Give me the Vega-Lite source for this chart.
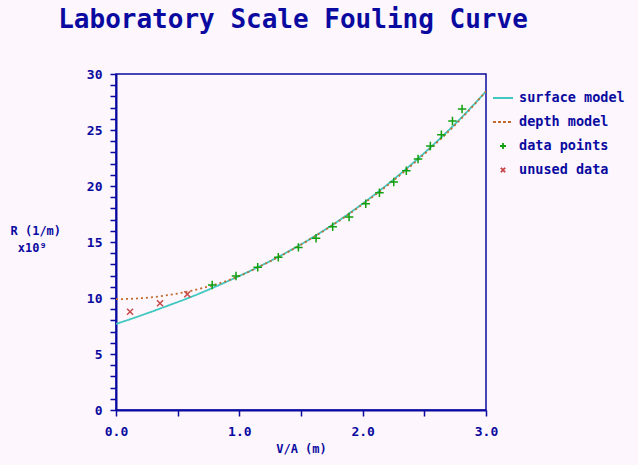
{
  "$schema": "https://vega.github.io/schema/vega-lite/v6.json",
  "width": 370,
  "height": 336,
  "autosize": {"type": "none"},
  "padding": {"left": 116, "top": 74, "right": 152, "bottom": 55},
  "background": "#fdf6fd",
  "title": {
    "text": "Laboratory Scale Fouling Curve",
    "font": "DejaVu Sans Mono",
    "fontSize": 26,
    "fontWeight": "bold",
    "color": "#0a0aa0",
    "anchor": "middle",
    "baseline": "alphabetic",
    "dx": -8,
    "offset": 14
  },
  "config": {
    "view": {"stroke": "#0a0aa0", "strokeWidth": 1.5},
    "axis": {
      "domainColor": "#0a0aa0",
      "domainWidth": 2,
      "tickColor": "#0a0aa0",
      "tickWidth": 1.5,
      "tickSize": 6,
      "grid": false,
      "labelFont": "DejaVu Sans Mono",
      "labelFontSize": 13,
      "labelFontWeight": "bold",
      "labelColor": "#0a0aa0",
      "titleFont": "DejaVu Sans Mono",
      "titleFontSize": 12,
      "titleFontWeight": "bold",
      "titleColor": "#0a0aa0"
    }
  },
  "data": {
    "values": [
      {"series": "surface model", "x": 0.0, "y": 7.68},
      {"series": "surface model", "x": 0.2, "y": 8.43},
      {"series": "surface model", "x": 0.4, "y": 9.23},
      {"series": "surface model", "x": 0.6, "y": 10.06},
      {"series": "surface model", "x": 0.8, "y": 10.98},
      {"series": "surface model", "x": 1.0, "y": 11.97},
      {"series": "surface model", "x": 1.2, "y": 13.02},
      {"series": "surface model", "x": 1.4, "y": 14.17},
      {"series": "surface model", "x": 1.6, "y": 15.45},
      {"series": "surface model", "x": 1.8, "y": 16.86},
      {"series": "surface model", "x": 2.0, "y": 18.43},
      {"series": "surface model", "x": 2.2, "y": 20.13},
      {"series": "surface model", "x": 2.4, "y": 21.98},
      {"series": "surface model", "x": 2.6, "y": 23.96},
      {"series": "surface model", "x": 2.8, "y": 26.1},
      {"series": "surface model", "x": 3.0, "y": 28.45},
      {"series": "depth model", "x": 0.0, "y": 9.9},
      {"series": "depth model", "x": 0.1, "y": 9.92},
      {"series": "depth model", "x": 0.2, "y": 9.98},
      {"series": "depth model", "x": 0.3, "y": 10.08},
      {"series": "depth model", "x": 0.4, "y": 10.22},
      {"series": "depth model", "x": 0.5, "y": 10.4},
      {"series": "depth model", "x": 0.6, "y": 10.62},
      {"series": "depth model", "x": 0.7, "y": 10.88},
      {"series": "depth model", "x": 0.8, "y": 11.18},
      {"series": "depth model", "x": 0.9, "y": 11.54},
      {"series": "depth model", "x": 1.0, "y": 11.96},
      {"series": "depth model", "x": 1.2, "y": 13.0},
      {"series": "depth model", "x": 1.4, "y": 14.14},
      {"series": "depth model", "x": 1.6, "y": 15.42},
      {"series": "depth model", "x": 1.8, "y": 16.82},
      {"series": "depth model", "x": 2.0, "y": 18.37},
      {"series": "depth model", "x": 2.2, "y": 20.05},
      {"series": "depth model", "x": 2.4, "y": 21.88},
      {"series": "depth model", "x": 2.6, "y": 23.86},
      {"series": "depth model", "x": 2.8, "y": 26.02},
      {"series": "depth model", "x": 3.0, "y": 28.45},
      {"series": "data points", "x": 0.78, "y": 11.16},
      {"series": "data points", "x": 0.973, "y": 11.96},
      {"series": "data points", "x": 1.149, "y": 12.74},
      {"series": "data points", "x": 1.316, "y": 13.63},
      {"series": "data points", "x": 1.479, "y": 14.52},
      {"series": "data points", "x": 1.622, "y": 15.33},
      {"series": "data points", "x": 1.757, "y": 16.37},
      {"series": "data points", "x": 1.89, "y": 17.23},
      {"series": "data points", "x": 2.025, "y": 18.42},
      {"series": "data points", "x": 2.136, "y": 19.4},
      {"series": "data points", "x": 2.252, "y": 20.36},
      {"series": "data points", "x": 2.354, "y": 21.37},
      {"series": "data points", "x": 2.449, "y": 22.41},
      {"series": "data points", "x": 2.549, "y": 23.57},
      {"series": "data points", "x": 2.638, "y": 24.58},
      {"series": "data points", "x": 2.728, "y": 25.8},
      {"series": "data points", "x": 2.806, "y": 26.88},
      {"series": "unused data", "x": 0.114, "y": 8.78},
      {"series": "unused data", "x": 0.357, "y": 9.53},
      {"series": "unused data", "x": 0.578, "y": 10.33}
    ]
  },
  "encoding": {
    "x": {
      "field": "x",
      "type": "quantitative",
      "scale": {"domain": [0, 3], "nice": false, "zero": false},
      "axis": {
        "title": "V/A (m)",
        "values": [0, 0.5, 1, 1.5, 2, 2.5, 3],
        "labelExpr": "datum.value % 1 == 0 ? format(datum.value, '.1f') : ''",
        "labelPadding": 9,
        "titlePadding": 5,
        "labelFlush": false,
        "labelOverlap": false
      }
    },
    "y": {
      "field": "y",
      "type": "quantitative",
      "scale": {"domain": [0, 30], "nice": false},
      "axis": {
        "title": ["R (1/m)", "\u200b\u00a0x10⁹"],
        "titleAngle": 0,
        "titleAlign": "left",
        "titleBaseline": "alphabetic",
        "titleX": -106,
        "titleY": 160,
        "titleLineHeight": 17,
        "values": [0,1,2,3,4,5,6,7,8,9,10,11,12,13,14,15,16,17,18,19,20,21,22,23,24,25,26,27,28,29,30],
        "labelExpr": "datum.value % 5 == 0 ? format(datum.value, 'd') : ''",
        "labelPadding": 8,
        "labelFlush": false,
        "labelOverlap": false
      }
    }
  },
  "layer": [
    {
      "transform": [{"filter": "datum.series == 'surface model' || datum.series == 'depth model'"}],
      "mark": {"type": "line", "strokeWidth": 1.8, "interpolate": "monotone", "clip": true},
      "encoding": {
        "color": {
          "field": "series",
          "type": "nominal",
          "scale": {
            "domain": ["surface model", "depth model", "data points", "unused data"],
            "range": ["#40c8c0", "#c06a30", "#10a010", "#c84848"]
          },
          "legend": {
            "orient": "none",
            "legendX": 376,
            "legendY": 13,
            "title": null,
            "labelFont": "DejaVu Sans Mono",
            "labelFontSize": 13.5,
            "labelFontWeight": "bold",
            "labelColor": "#0a0aa0",
            "labelOffset": 5,
            "rowPadding": 6,
            "encode": {
              "symbols": {
                "update": {
                  "shape": {"signal": "datum.value == 'data points' ? 'M-1,0L1,0M0,-1L0,1' : datum.value == 'unused data' ? 'M-1,-1L1,1M-1,1L1,-1' : 'stroke'"},
                  "size": {"signal": "datum.value == 'data points' ? 36 : datum.value == 'unused data' ? 20 : 400"},
                  "strokeDash": {"signal": "datum.value == 'depth model' ? [3, 2] : [1, 0]"},
                  "stroke": {"scale": "color", "field": "value"},
                  "strokeWidth": {"value": 1.8},
                  "fill": {"value": "transparent"},
                  "opacity": {"value": 1}
                }
              }
            }
          }
        },
        "strokeDash": {
          "field": "series",
          "type": "nominal",
          "scale": {"domain": ["surface model", "depth model"], "range": [[1, 0], [2, 3]]},
          "legend": null
        }
      }
    },
    {
      "transform": [{"filter": "datum.series == 'data points' || datum.series == 'unused data'"}],
      "mark": {"type": "point", "filled": false, "strokeWidth": 1.5, "opacity": 1},
      "encoding": {
        "color": {"field": "series", "type": "nominal"},
        "shape": {
          "field": "series",
          "type": "nominal",
          "scale": {"domain": ["data points", "unused data"], "range": ["M-1,0L1,0M0,-1L0,1", "M-1,-1L1,1M-1,1L1,-1"]},
          "legend": null
        },
        "size": {
          "field": "series",
          "type": "nominal",
          "scale": {"domain": ["data points", "unused data"], "range": [72, 36]},
          "legend": null
        }
      }
    }
  ]
}
